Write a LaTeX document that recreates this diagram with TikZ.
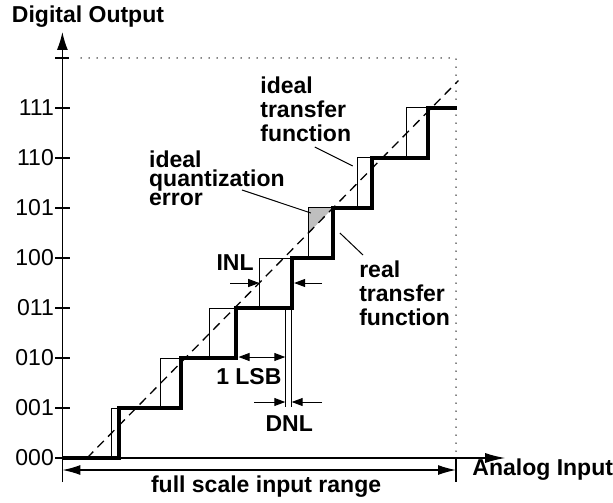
\documentclass[tikz,border=0pt]{standalone}
\usepackage{fontspec}
\setmainfont{Liberation Sans}
\usetikzlibrary{arrows.meta}

\tikzset{
  lbl/.style={font=\fontsize{23}{24}\selectfont\bfseries, align=left, inner sep=0pt},
  codelbl/.style={font=\fontsize{23}{24}\selectfont, anchor=east, inner sep=1pt},
  axis/.style={line width=1.3pt},
  idealstep/.style={line width=1pt},
  realstep/.style={line width=3.6pt, line join=miter},
  idealline/.style={line width=1.3pt, dash pattern=on 9pt off 6pt},
  dotline/.style={line width=1.5pt, line cap=round, dash pattern=on 0pt off 8pt},
  leader/.style={line width=1pt},
  dimarrow/.style={line width=1pt, -{Triangle[length=11pt,width=8pt]}},
}

\begin{document}
\begin{tikzpicture}[x=49.2pt, y=50pt]
\useasboundingbox (-1.268,-0.88) rectangle (11.191,9.16);

% Axes
\coordinate (ybot) at (0,-0.48);
\coordinate (ytop) at (0,8.52);
\coordinate (origin) at (0,0);
\coordinate (xend) at (9.0,0);
\draw[axis, -{Latex[length=18pt,width=11pt]}] (ybot) -- (ytop);
\draw[axis, -{Latex[length=20pt,width=10pt]}] (origin) -- (xend);
\node[lbl] (yname) at (0.52,8.82) {Digital Output};
\node[lbl, anchor=west] (xname) at (8.33,-0.24) {Analog Input};

% Output codes
\foreach \k/\code in {0/000, 1/001, 2/010, 3/011, 4/100, 5/101, 6/110, 7/111} {
  \node[codelbl] (code\k) at (-0.15,\k) {\code};
  \draw[axis] (code\k.east) -- ++(0.3,0);
}
\coordinate (fstop) at (-0.14,8);
\draw[axis] (fstop) -- ++(0.28,0);

% Full scale frame
\coordinate (fsa) at (0.38,8);
\coordinate (fsb) at (8,8);
\coordinate (fsc) at (8,0.08);
\draw[dotline] (fsa) -- (fsb) -- (fsc);

% Full scale input range
\coordinate (rngl) at (0,-0.24);
\coordinate (rngr) at (8,-0.24);
\coordinate (rngt) at (8,0);
\coordinate (rngb) at (8,-0.48);
\draw[axis, {Latex[length=18pt,width=10pt]}-{Latex[length=18pt,width=10pt]}] (rngl) -- (rngr);
\draw[axis] (rngt) -- (rngb);
\node[lbl] (range) at (4.14,-0.58) {full scale input range};

% Ideal quantization error
\fill[black!25] (5,5) -- (5.5,5) -- (5,4.5) -- cycle;

% Ideal transfer function
\draw[idealstep] (0,0) \foreach \k in {1,...,7} { -- (\k,\k-1) -- (\k,\k) } -- (8,7);
\coordinate (lina) at (0.5,0);
\coordinate (linb) at (8.05,7.55);
\draw[idealline] (lina) -- (linb);

% Real transfer function
\draw[realstep] (0,0) \foreach \r [count=\k] in {1.15,2.41,3.53,4.67,5.5,6.29,7.43} { -- (\r,\k-1) -- (\r,\k) } -- (8.03,7);

% Labels with leaders
\node[lbl, anchor=west] (idealtf) at (4.02,6.98) {ideal\\transfer\\function};
\node[lbl, anchor=west, font=\fontsize{23}{19}\selectfont\bfseries] (qerr) at (1.76,5.6) {ideal\\quantization\\error};
\node[lbl, anchor=west] (realtf) at (6.03,3.3) {real\\transfer\\function};
\coordinate (idealtfa) at (5.13,6.22);
\coordinate (idealtfb) at (5.9,5.84);
\coordinate (qerra) at (3.65,5.36);
\coordinate (qerrb) at (5.05,4.9);
\coordinate (realtfa) at (5.64,4.5);
\coordinate (realtfb) at (6.11,4.06);
\draw[leader] (idealtfa) -- (idealtfb);
\draw[leader] (qerra) -- (qerrb);
\draw[leader] (realtfa) -- (realtfb);

% INL
\node[lbl] (inl) at (3.51,3.9) {INL};
\coordinate (inla) at (3.41,3.5);
\coordinate (inlb) at (4.0,3.5);
\coordinate (inlc) at (5.28,3.5);
\coordinate (inld) at (4.71,3.5);
\draw[dimarrow] (inla) -- (inlb);
\draw[dimarrow] (inlc) -- (inld);

% 1 LSB and DNL
\coordinate (lsbtop) at (4.53,3);
\coordinate (lsbbot) at (4.53,1.02);
\coordinate (dnltop) at (4.66,3);
\coordinate (dnlbot) at (4.66,1.02);
\draw[idealstep] (lsbtop) -- (lsbbot);
\draw[idealstep] (dnltop) -- (dnlbot);
\coordinate (lsba) at (3.58,2.02);
\coordinate (lsbb) at (4.53,2.02);
\draw[dimarrow, {Triangle[length=11pt,width=8pt]}-{Triangle[length=11pt,width=8pt]}] (lsba) -- (lsbb);
\node[lbl] (lsb) at (3.79,1.62) {1 LSB};
\coordinate (dnla) at (3.9,1.12);
\coordinate (dnlb) at (4.53,1.12);
\coordinate (dnlc) at (5.28,1.12);
\coordinate (dnld) at (4.66,1.12);
\draw[dimarrow] (dnla) -- (dnlb);
\draw[dimarrow] (dnlc) -- (dnld);
\node[lbl] (dnl) at (4.61,0.68) {DNL};
\end{tikzpicture}
\end{document}
